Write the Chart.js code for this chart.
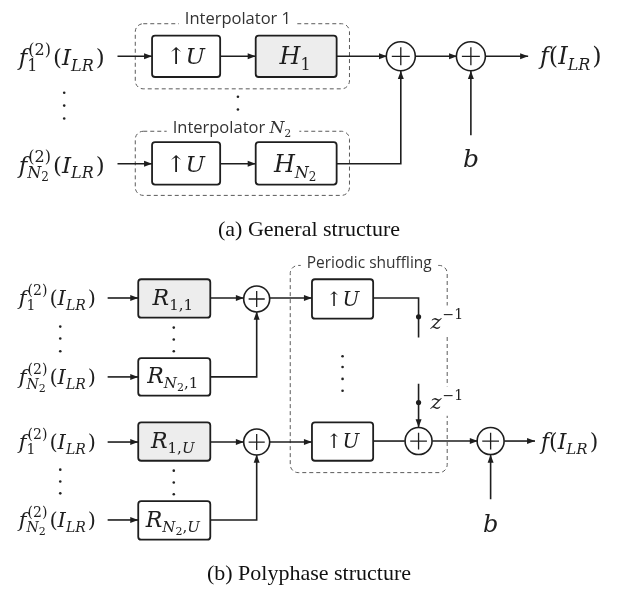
<!DOCTYPE html>
<html>
<head>
<meta charset="utf-8">
<script src="https://cdn.jsdelivr.net/npm/chart.js@4/dist/chart.umd.min.js"></script>
<style>
  html, body { margin: 0; padding: 0; background: #fff; }
  canvas { display: block; }
</style>
</head>
<body>
<canvas id="diagram" width="618" height="595"></canvas>
<script>
// diagram coordinates are in picture pixels, y grows downwards
const wires = [
  // (a) general structure
  { pts: [[115, 53], [150, 53]], arrow: true },
  { pts: [[219, 53], [255, 53]], arrow: true },
  { pts: [[337, 53], [388, 53]], arrow: true },
  { pts: [[417, 53], [459, 53]], arrow: true },
  { pts: [[487, 53], [531, 53]], arrow: true },
  { pts: [[473, 133], [473, 68]], arrow: true },
  { pts: [[115, 162], [150, 162]], arrow: true },
  { pts: [[219, 162], [255, 162]], arrow: true },
  { pts: [[337, 162], [402, 162], [402, 68]], arrow: true },
  // (b) polyphase structure
  { pts: [[105, 298], [136, 298]], arrow: true },
  { pts: [[105, 378], [136, 378]], arrow: true },
  { pts: [[105, 444], [136, 444]], arrow: true },
  { pts: [[105, 523], [136, 523]], arrow: true },
  { pts: [[209, 298], [243, 298]], arrow: true },
  { pts: [[269, 298], [312, 298]], arrow: true },
  { pts: [[209, 378], [256, 378], [256, 312]], arrow: true },
  { pts: [[209, 444], [243, 444]], arrow: true },
  { pts: [[269, 444], [312, 444]], arrow: true },
  { pts: [[209, 523], [256, 523], [256, 457]], arrow: true },
  { pts: [[374, 298], [420, 298], [420, 338]], arrow: false },
  { pts: [[420, 385], [420, 429]], arrow: true },
  { pts: [[374, 443], [406, 443]], arrow: false },
  { pts: [[434, 443], [480, 443]], arrow: true },
  { pts: [[507, 443], [538, 443]], arrow: true },
  { pts: [[493, 502], [493, 457]], arrow: true }
];

const junctions = [[420, 317], [420, 404]];

const ellipsisDots = [
  [61, 90], [61, 103], [61, 116], [237, 94], [237, 107],
  [57, 327], [57, 339], [57, 352], [172, 328], [172, 340], [172, 352],
  [343, 357], [343, 368], [343, 380], [343, 392],
  [57, 472], [57, 484], [57, 496], [172, 473], [172, 485], [172, 497]
];

// [x, y, w, h, shaded]
const blocks = [
  [150, 32, 69, 42, false], [255, 32, 82, 42, true],
  [150, 140, 69, 43, false], [255, 140, 82, 43, false],
  [136, 279, 73, 39, true], [136, 359, 73, 38, false],
  [312, 279, 62, 40, false], [312, 424, 62, 39, false],
  [136, 424, 73, 39, true], [136, 504, 73, 39, false]
];

// [cx, cy, r]
const adders = [
  [402, 53, 14.5], [473, 53, 14.5],
  [256, 299, 13], [256, 444, 13], [420, 443, 13.5], [493, 443, 13.5]
];

// [x, y, w, h]
const groups = [[133, 20, 217, 66], [133, 129, 217, 65], [290, 265, 159, 210]];

// rich text parts: t = text (i = italic), or stacked sup/sub
const fIn1 = [{ t: 'f', i: true }, { sup: '(2)', sub: '1' }, { t: '(' }, { t: 'I', i: true }, { sub: 'LR', subi: true }, { t: ')' }];
const fInN = [{ t: 'f', i: true }, { sup: '(2)', sub: 'N', subi: true, sub2: '2' }, { t: '(' }, { t: 'I', i: true }, { sub: 'LR', subi: true }, { t: ')' }];
const fOut = [{ t: 'f', i: true }, { t: '(' }, { t: 'I', i: true }, { sub: 'LR', subi: true }, { t: ')' }];
const upU = [{ t: '\u2191' }, { t: 'U', i: true }];
const zInv = [{ t: 'z', i: true }, { sup: '\u22121' }];

// [parts, x, y(baseline), size, align, background]
const mathLabels = [
  [fIn1, 15, 62, 23, 'left'], [fInN, 15, 171, 23, 'left'],
  [upU, 184, 61, 23, 'center'], [[{ t: 'H', i: true }, { sub: '1' }], 296, 61, 24, 'center'],
  [upU, 184, 170, 23, 'center'], [[{ t: 'H', i: true }, { sub: 'N', subi: true, sub2: '2' }], 296, 170, 24, 'center'],
  [fOut, 543, 61, 24, 'left'], [[{ t: 'b', i: true }], 473, 165, 25, 'center'],
  [fIn1, 15, 305, 21, 'left'], [fInN, 15, 385, 21, 'left'],
  [fIn1, 15, 451, 21, 'left'], [fInN, 15, 530, 21, 'left'],
  [[{ t: 'R', i: true }, { sub: '1,1' }], 172, 305, 22, 'center'],
  [[{ t: 'R', i: true }, { sub: 'N', subi: true, sub2: '2', sub3: ',1' }], 172, 384, 22, 'center'],
  [[{ t: 'R', i: true }, { sub: '1,', sub3i: 'U' }], 172, 450, 22, 'center'],
  [[{ t: 'R', i: true }, { sub: 'N', subi: true, sub2: '2', sub3: ',', sub3i: 'U' }], 172, 530, 22, 'center'],
  [upU, 343, 306, 20, 'center'], [upU, 343, 450, 20, 'center'],
  [zInv, 432, 329, 21, 'left', true], [zInv, 432, 411, 21, 'left', true],
  [fOut, 544, 451, 22, 'left'], [[{ t: 'b', i: true }], 493, 535, 24, 'center']
];

// [text, x, y, parts after text]
const groupTitles = [
  ['Interpolator 1', 237, 15, null],
  ['Interpolator ', 232, 126, 'N2'],
  ['Periodic shuffling', 370, 263, null]
];
const titleSize = [16.5, 16.5, 15.5];

const captions = [['(a) General structure', 309, 235], ['(b) Polyphase structure', 309, 584]];

const INK = '#1e1e1e';
const MATH = '"DejaVu Serif"';

function mathFont(italic, size) {
  return (italic ? 'italic ' : '') + size + 'px ' + MATH;
}

function layoutRich(ctx, parts, s) {
  const items = [];
  let w = 0;
  const ss = Math.round(s * 0.68);
  parts.forEach(p => {
    if (p.t !== undefined) {
      const f = mathFont(p.i, s);
      ctx.font = f;
      items.push({ t: p.t, f: f, x: w, dy: 0 });
      w += ctx.measureText(p.t).width;
    } else {
      let supW = 0, subW = 0;
      if (p.sup) {
        const f = mathFont(false, ss);
        ctx.font = f;
        items.push({ t: p.sup, f: f, x: w + 1, dy: -s * 0.45 });
        supW = ctx.measureText(p.sup).width + 1;
      }
      if (p.sub) {
        let sx = w;
        const segs = [[p.sub, p.subi, ss], [p.sub2, false, Math.round(ss * 0.75)], [p.sub3, false, ss], [p.sub3i, true, ss]];
        segs.forEach(([txt, it, sz], k) => {
          if (!txt) return;
          const f = mathFont(it, sz);
          ctx.font = f;
          items.push({ t: txt, f: f, x: sx, dy: s * 0.25 + (k === 1 ? s * 0.12 : 0) });
          sx += ctx.measureText(txt).width;
        });
        subW = sx - w;
      }
      w += Math.max(supW, subW) + 2;
    }
  });
  return { items, w };
}

const diagramPlugin = {
  id: 'diagram',
  beforeDatasetsDraw(chart) {
    const { ctx, scales: { x, y } } = chart;
    const px = v => x.getPixelForValue(v), py = v => y.getPixelForValue(v);
    ctx.save();
    ctx.strokeStyle = '#5a5a5a';
    ctx.lineWidth = 1;
    ctx.setLineDash([4, 3]);
    groups.forEach(([gx, gy, gw, gh]) => {
      ctx.beginPath();
      ctx.roundRect(px(gx), py(gy), px(gx + gw) - px(gx), py(gy + gh) - py(gy), 8);
      ctx.stroke();
    });
    ctx.setLineDash([]);
    // titles on white patches
    ctx.textBaseline = 'middle';
    groupTitles.forEach(([txt, tx, ty, extra], k) => {
      const sansFont = titleSize[k] + 'px "Open Sans"';
      ctx.font = sansFont;
      const tw = ctx.measureText(txt).width;
      let ew = 0;
      if (extra) {
        ctx.font = mathFont(true, 17);
        ew = ctx.measureText('N').width + 9;
      }
      const total = tw + ew;
      const x0 = px(tx) - total / 2;
      ctx.fillStyle = '#fff';
      ctx.fillRect(x0 - 6, py(ty) - 9, total + 12, 18);
      ctx.fillStyle = '#333';
      ctx.font = sansFont;
      ctx.textAlign = 'left';
      ctx.fillText(txt, x0, py(ty));
      if (extra) {
        ctx.font = mathFont(true, 17);
        ctx.fillText('N', x0 + tw, py(ty));
        ctx.font = mathFont(false, 11);
        ctx.fillText('2', x0 + tw + ew - 9, py(ty) + 6);
      }
    });
    ctx.restore();
  },
  afterDatasetsDraw(chart) {
    const { ctx, scales: { x, y } } = chart;
    const px = v => x.getPixelForValue(v), py = v => y.getPixelForValue(v);
    ctx.save();
    // arrow heads
    ctx.fillStyle = INK;
    wires.forEach(wr => {
      if (!wr.arrow) return;
      const n = wr.pts.length;
      const [x1, y1] = wr.pts[n - 2], [x2, y2] = wr.pts[n - 1];
      const a = Math.atan2(py(y2) - py(y1), px(x2) - px(x1));
      const L = 8, H = 3;
      ctx.beginPath();
      ctx.moveTo(px(x2), py(y2));
      ctx.lineTo(px(x2) - L * Math.cos(a) + H * Math.sin(a), py(y2) - L * Math.sin(a) - H * Math.cos(a));
      ctx.lineTo(px(x2) - L * Math.cos(a) - H * Math.sin(a), py(y2) - L * Math.sin(a) + H * Math.cos(a));
      ctx.closePath();
      ctx.fill();
    });
    // blocks
    ctx.strokeStyle = INK;
    ctx.lineWidth = 1.8;
    blocks.forEach(([bx, by, bw, bh, shaded]) => {
      ctx.beginPath();
      ctx.roundRect(px(bx), py(by), px(bx + bw) - px(bx), py(by + bh) - py(by), 3);
      ctx.fillStyle = shaded ? '#ededed' : '#fff';
      ctx.fill();
      ctx.stroke();
    });
    // adders
    ctx.lineWidth = 1.6;
    adders.forEach(([cx, cy, r]) => {
      ctx.beginPath();
      ctx.arc(px(cx), py(cy), r, 0, Math.PI * 2);
      ctx.fillStyle = '#fff';
      ctx.fill();
      ctx.stroke();
      const k = r * 0.62;
      ctx.lineWidth = 1.3;
      ctx.beginPath();
      ctx.moveTo(px(cx) - k, py(cy)); ctx.lineTo(px(cx) + k, py(cy));
      ctx.moveTo(px(cx), py(cy) - k); ctx.lineTo(px(cx), py(cy) + k);
      ctx.stroke();
      ctx.lineWidth = 1.6;
    });
    // math labels
    ctx.textBaseline = 'alphabetic';
    ctx.textAlign = 'left';
    mathLabels.forEach(([parts, lx, ly, s, align, bg]) => {
      const { items, w } = layoutRich(ctx, parts, s);
      const x0 = align === 'center' ? px(lx) - w / 2 : px(lx);
      if (bg) {
        ctx.fillStyle = '#fff';
        ctx.fillRect(x0 - 2, py(ly) - s * 1.1, w + 4, s * 1.4);
      }
      ctx.fillStyle = INK;
      items.forEach(it => {
        ctx.font = it.f;
        ctx.fillText(it.t, x0 + it.x, py(ly) + it.dy);
      });
    });
    // captions
    ctx.font = '22px "Liberation Serif"';
    ctx.textAlign = 'center';
    ctx.fillStyle = '#111';
    captions.forEach(([txt, cx, cy]) => ctx.fillText(txt, px(cx), py(cy)));
    ctx.restore();
  }
};

const datasets = wires.map(wr => ({
  type: 'line',
  data: wr.pts.map(([a, b]) => ({ x: a, y: b })),
  borderColor: INK,
  borderWidth: 1.6,
  pointRadius: 0,
  tension: 0,
  fill: false
}));
datasets.push({
  type: 'scatter',
  data: junctions.map(([a, b]) => ({ x: a, y: b })),
  pointRadius: 2.6, pointBackgroundColor: INK, pointBorderWidth: 0
});
datasets.push({
  type: 'scatter',
  data: ellipsisDots.map(([a, b]) => ({ x: a, y: b })),
  pointRadius: 1.3, pointBackgroundColor: '#222', pointBorderWidth: 0
});

new Chart(document.getElementById('diagram'), {
  type: 'scatter',
  data: { datasets },
  plugins: [diagramPlugin],
  options: {
    responsive: false,
    animation: false,
    layout: { padding: 0 },
    plugins: { legend: { display: false }, tooltip: { enabled: false } },
    scales: {
      x: { type: 'linear', min: 0, max: 618, display: false },
      y: { type: 'linear', min: 0, max: 595, reverse: true, display: false }
    }
  }
});
</script>
</body>
</html>
